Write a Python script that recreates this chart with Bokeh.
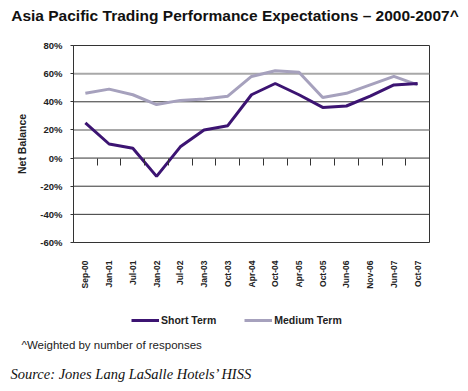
from math import pi
from bokeh.plotting import figure
from bokeh.layouts import column
from bokeh.models import (FactorRange, Range1d, FixedTicker, PrintfTickFormatter, Span,
                          Legend, LegendItem, CategoricalAxis, Label)
from bokeh.embed import file_html
from bokeh.resources import INLINE

# ---- data ----
periods = ["Sep-00", "Jan-01", "Jul-01", "Jan-02", "Jul-02", "Jan-03", "Oct-03", "Apr-04",
           "Oct-04", "Apr-05", "Oct-05", "Jun-06", "Nov-06", "Jun-07", "Oct-07"]
short_term = [25, 10, 7, -13, 8, 20, 23, 45, 53, 45, 36, 37, 44, 52, 53]
medium_term = [46, 49, 45, 38, 41, 42, 44, 58, 62, 61, 43, 46, 52, 58, 52]
y_ticks = [-60, -40, -20, 0, 20, 40, 60, 80]
grid_light = [60, 20]
grid_dark = [40, 0, -20, -40]

title_text = "Asia Pacific Trading Performance Expectations \u2013 2000-2007^"
y_label = "Net Balance"
footnote = "^Weighted by number of responses"
source = "Source: Jones Lang LaSalle Hotels\u2019 HISS"

SHORT_C = "#3C1472"
MED_C = "#A6A1BD"
DARK = "#333333"
SANS = "Liberation Sans"
W = 460


def text_panel(top, height):
    f = figure(width=W, height=height, x_range=Range1d(0, W), y_range=Range1d(top + height, top),
               output_backend="svg", toolbar_location=None, min_border=0,
               x_axis_type=None, y_axis_type=None)
    f.frame_align = False
    f.outline_line_color = None
    f.background_fill_color = "white"
    f.border_fill_color = "white"
    f.grid.grid_line_color = None
    return f


# ---- header ----
HEAD_TOP, HEAD_H = 2, 36
h = text_panel(HEAD_TOP, HEAD_H)
h.add_layout(Label(x=234.5, y=17, text=title_text, text_align="center", text_baseline="middle",
                   text_font=SANS, text_font_style="bold", text_font_size="15.5px",
                   text_color="#111111"))

# ---- main chart ----
MAIN_H = 255
p = figure(width=W, height=MAIN_H, x_range=FactorRange(*periods), y_range=Range1d(-60, 80),
           output_backend="svg", toolbar_location=None,
           min_border_left=73, min_border_right=31, min_border_top=9, min_border_bottom=49)
p.frame_align = False
p.background_fill_color = "white"
p.border_fill_color = "white"
p.outline_line_color = DARK
p.outline_line_width = 1
p.xgrid.grid_line_color = None
p.ygrid.grid_line_color = None

for v in grid_light:
    p.add_layout(Span(location=v, dimension="width", line_color="#A8A8A8", line_width=2, level="underlay"))
for v in grid_dark:
    p.add_layout(Span(location=v, dimension="width", line_color=DARK, line_width=1, level="underlay"))

p.line(periods, medium_term, line_color=MED_C, line_width=3)
p.line(periods, short_term, line_color=SHORT_C, line_width=3)

ya = p.yaxis[0]
ya.ticker = FixedTicker(ticks=y_ticks)
ya.formatter = PrintfTickFormatter(format="%d%%")
ya.axis_line_color = DARK
ya.major_tick_out = 3
ya.major_tick_in = 0
ya.major_tick_line_color = DARK
ya.minor_tick_line_color = None
ya.major_label_text_font = SANS
ya.major_label_text_font_style = "bold"
ya.major_label_text_font_size = "9.5px"
ya.major_label_text_color = "#222222"
ya.major_label_standoff = 8
ya.axis_label = y_label
ya.axis_label_text_font = SANS
ya.axis_label_text_font_style = "bold"
ya.axis_label_text_font_size = "10.5px"
ya.axis_label_text_color = "#222222"
ya.axis_label_standoff = 9

xa = p.xaxis[0]
xa.axis_line_color = None
xa.major_tick_line_color = None
xa.major_label_orientation = pi / 2
xa.major_label_standoff = 12
xa.major_label_text_font = SANS
xa.major_label_text_font_style = "bold"
xa.major_label_text_font_size = "8.5px"
xa.major_label_text_color = "#222222"

# tick marks on the zero line, between categories (boundary factors)
boundaries = ["b%d" % i for i in range(1, len(periods))]
p.extra_x_ranges = {"bounds": FactorRange(factors=boundaries, range_padding=0.5,
                                          range_padding_units="absolute")}
zax = CategoricalAxis(x_range_name="bounds", fixed_location=0, axis_line_color=None,
                      major_tick_in=7, major_tick_out=0, major_tick_line_color=DARK,
                      major_label_text_font_size="0px", major_label_standoff=0)
p.add_layout(zax, "above")

# ---- footer: legend, footnote, source ----
FOOT_TOP = HEAD_TOP + HEAD_H + MAIN_H
FOOT_H = 96
f = text_panel(FOOT_TOP, FOOT_H)
idx = list(range(len(periods)))
l_short = f.line(x=idx, y=short_term, line_color=SHORT_C, line_width=3)   # off-range: legend only
l_med = f.line(x=idx, y=medium_term, line_color=MED_C, line_width=3)
legend = Legend(items=[LegendItem(label="Short Term", renderers=[l_short]),
                       LegendItem(label="Medium Term", renderers=[l_med])],
                orientation="horizontal", location=(131, 61),
                glyph_width=28, glyph_height=10, label_standoff=2, spacing=28,
                padding=2, margin=0, border_line_color=None, background_fill_alpha=0,
                label_text_font=SANS, label_text_font_style="bold",
                label_text_font_size="10.5px", label_text_color="#222222")
f.add_layout(legend, "center")

f.add_layout(Label(x=21, y=346, text=footnote, text_align="left", text_baseline="middle",
                   text_font=SANS, text_font_size="11.5px", text_color="#222222"))
f.add_layout(Label(x=10, y=375, text=source, text_align="left", text_baseline="middle",
                   text_font="Liberation Serif", text_font_style="italic",
                   text_font_size="14.5px", text_color="#111111"))

open("out.html", "w").write(file_html(column(h, p, f, spacing=0), INLINE))
